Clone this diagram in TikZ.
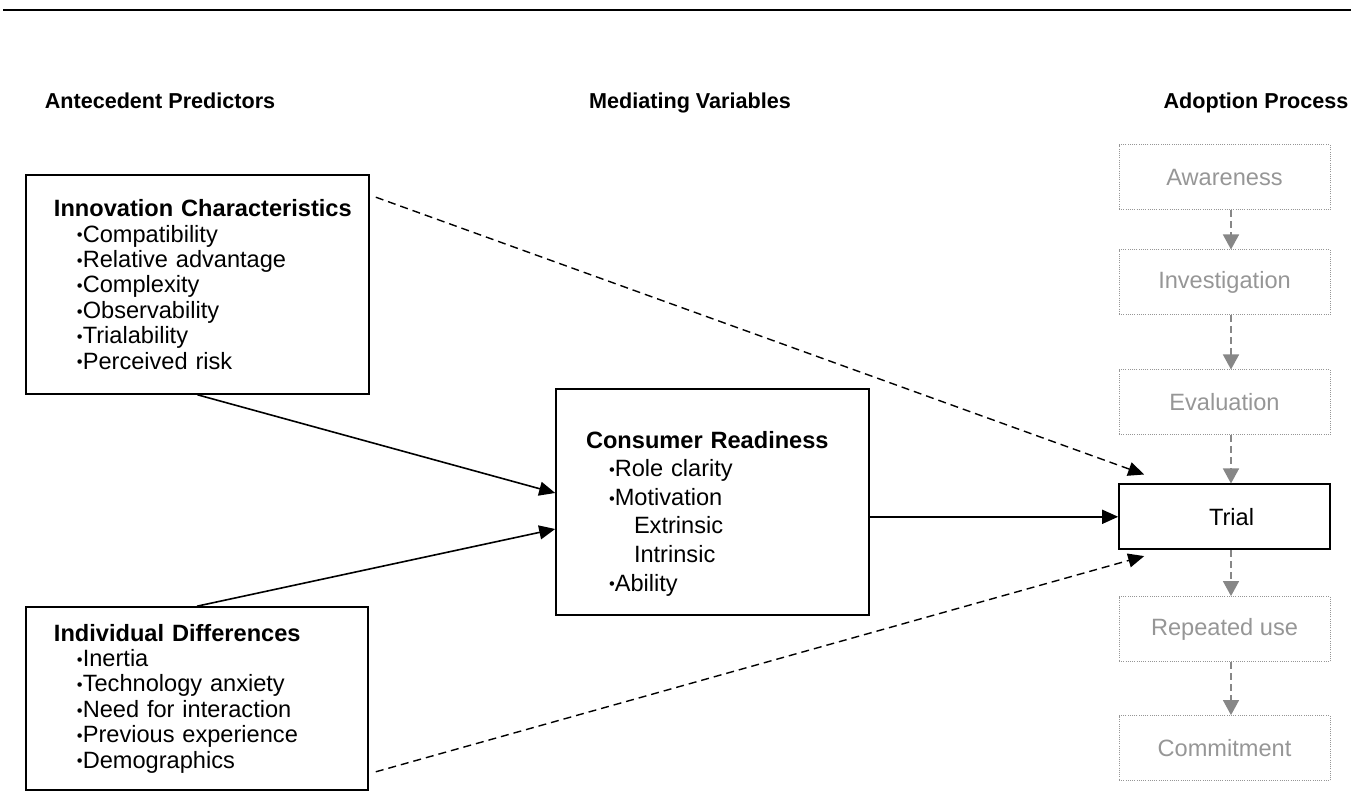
\documentclass[tikz,border=0pt]{standalone}
\usepackage{fontspec}
\setmainfont{Liberation Sans}
\usepackage{xcolor}
\usetikzlibrary{arrows.meta, positioning}

\definecolor{stagegray}{RGB}{150,150,150}
\definecolor{arrowgray}{RGB}{135,135,135}
\newcommand{\bul}{\raisebox{0.1ex}{\scalebox{0.7}{\textbullet}}}
\newcommand{\itm}{\hspace*{11.5pt}\bul}

\begin{document}
\begin{tikzpicture}[
    x=0.5pt, y=-0.5pt,
    font=\fontsize{11.8}{12.7}\selectfont,
    head/.style={font=\fontsize{10.8}{12}\selectfont\bfseries, anchor=base},
    box/.style={rectangle, draw, line width=0.8pt, align=left, inner xsep=14pt},
    stage/.style={rectangle, draw=stagegray, line width=0.5pt, dash pattern=on 0.5pt off 0.6pt, text=stagegray, minimum width=105.5pt, minimum height=32.5pt},
    arrow/.style={-{Triangle[length=8pt,width=7pt]}, line width=0.8pt},
    dasharrow/.style={arrow, line width=0.7pt, dash pattern=on 4pt off 2.5pt},
    grayarrow/.style={-{Triangle[length=7.5pt,width=8pt]}, draw=arrowgray, line width=0.7pt, dash pattern=on 3.5pt off 2pt}
]
\useasboundingbox (0,0) rectangle (1351,807);

\draw[line width=1.4pt] (3,10) -- (1351,10);

% column headings
\node[head] (hant) at (160,109) {Antecedent Predictors};
\node[head] (hmed) at (690,109) {Mediating Variables};
\node[head] (hado) at (1256,109) {Adoption Process};

% antecedents
\node[box, minimum width=171.5pt, minimum height=109.5pt, text width=143.5pt] (inn) at (197.5,284.5)
    {\mbox{\bfseries Innovation Characteristics}\\
     \itm Compatibility\\
     \itm Relative advantage\\
     \itm Complexity\\
     \itm Observability\\
     \itm Trialability\\
     \itm Perceived risk};
\node[box, minimum width=171pt, minimum height=91.5pt, text width=143pt] (ind) at (197,698.5)
    {\textbf{Individual Differences}\\
     \itm Inertia\\
     \itm Technology anxiety\\
     \itm Need for interaction\\
     \itm Previous experience\\
     \itm Demographics};

% mediator
\node[box, inner xsep=15pt, minimum width=156.5pt, minimum height=113pt, text width=126.5pt,
      font=\fontsize{11.8}{14.3}\selectfont] (cr) at (712.5,502)
    {\rule{0pt}{20pt}\textbf{Consumer Readiness}\\
     \itm Role clarity\\
     \itm Motivation\\
     \hspace*{24pt}Extrinsic\\
     \hspace*{24pt}Intrinsic\\
     \itm Ability};

% adoption process
\node[stage] (aw) at (1224.5,177.5) {Awareness};
\node[stage, below=19.5pt of aw] (inv) {Investigation};
\node[stage, below=27pt of inv] (ev) {Evaluation};
\node[box, align=center, minimum width=105.5pt, minimum height=32.5pt, below=24pt of ev] (tr) {\hspace*{7pt}Trial};
\node[stage, below=23pt of tr] (rep) {Repeated use};
\node[stage, below=26.5pt of rep] (com) {Commitment};

\draw[grayarrow] ([xshift=3.25pt]aw.south) -- ([xshift=3.25pt]inv.north);
\draw[grayarrow] ([xshift=3.25pt]inv.south) -- ([xshift=3.25pt]ev.north);
\draw[grayarrow] ([xshift=3.25pt]ev.south) -- ([xshift=3.25pt]tr.north);
\draw[grayarrow] ([xshift=3.25pt]tr.south) -- ([xshift=3.25pt]rep.north);
\draw[grayarrow] ([xshift=3.25pt]rep.south) -- ([xshift=3.25pt]com.north);

\draw[arrow] (inn.south) -- ([yshift=4.5pt]cr.west);
\draw[arrow] (ind.north) -- ([yshift=-13.5pt]cr.west);
\draw[arrow] (tr.west -| cr.east) -- (tr.west);
\draw[dasharrow] ([shift={(3pt,-11.5pt)}]inn.north east) -- ([shift={(13pt,4.5pt)}]tr.north west);
\draw[dasharrow] ([shift={(3.5pt,9.5pt)}]ind.south east) -- ([shift={(13pt,-3pt)}]tr.south west);

\end{tikzpicture}
\end{document}
